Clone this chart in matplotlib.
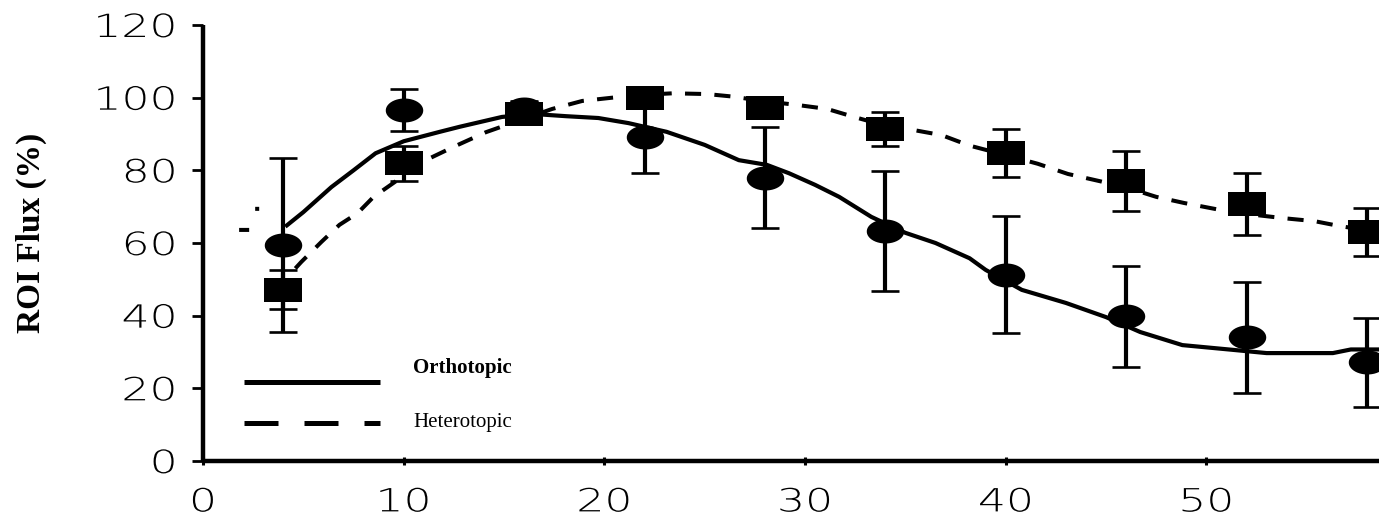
import numpy as np
import matplotlib
matplotlib.use("Agg")
import matplotlib.pyplot as plt
from matplotlib.path import Path
from matplotlib.lines import Line2D
from matplotlib.patheffects import AbstractPathEffect
from matplotlib.transforms import Affine2D

# ---- data -------------------------------------------------------------
days = [4, 10, 16, 22, 28, 34, 40, 46, 52, 58]

ortho_mean = [59.5, 96.6, 97.0, 89.2, 78.0, 63.3, 51.3, 39.8, 34.0, 27.2]
ortho_err = [24.0, 5.7, 2.0, 10.0, 14.0, 16.4, 16.0, 14.0, 15.3, 12.2]

hetero_mean = [47.2, 82.0, 95.6, 100.0, 97.1, 91.4, 84.8, 77.0, 70.7, 63.0]
hetero_err = [5.4, 4.8, 2.0, 2.0, 2.5, 4.6, 6.6, 8.2, 8.5, 6.5]

# fitted curves
ortho_fit_x = [4.1, 5.0, 6.4, 7.5, 8.6, 10.0, 11.8, 12.8, 14.9, 16.5, 18.1,
               19.7, 21.2, 23.1, 25.0, 26.7, 28.1, 29.2, 30.5, 31.7, 33.3,
               35.0, 36.5, 38.2, 39.0, 40.8, 43.0, 45.0, 46.7, 48.8, 51.3,
               53.0, 56.3, 57.2, 58.6]
ortho_fit_y = [64.5, 68.5, 75.4, 80.0, 84.7, 88.0, 90.6, 92.0, 94.7, 95.5, 94.9,
               94.4, 93.0, 90.6, 87.0, 82.8, 81.5, 79.2, 76.0, 72.7, 67.2,
               62.8, 60.0, 55.8, 52.6, 47.1, 43.5, 39.6, 35.5, 31.9, 30.6,
               29.7, 29.7, 30.7, 30.7]

hetero_fit_x = [1.8, 2.3, np.nan, 2.6, 2.8, np.nan, 4.6, 4.9, 5.9, 6.8, 7.7,
                8.5, 10.0, 11.1, 12.5, 14.1, 16.0, 17.4, 18.9, 20.4, 22.0,
                23.4, 25.1, 26.4, 28.0, 29.6, 31.1, 32.5, 34.0, 35.5, 36.8,
                38.2, 40.0, 41.6, 43.1, 44.7, 46.0, 47.5, 48.9, 50.5, 52.0,
                53.9, 55.4, 56.6, 58.0, 58.6]
hetero_fit_y = [63.6, 63.6, np.nan, 69.4, 69.4, np.nan, 53.0, 54.8, 60.3, 65.0,
                68.2, 72.7, 78.5, 82.8, 86.5, 90.5, 94.2, 96.9, 99.1, 100.0,
                100.8, 101.2, 101.0, 100.3, 99.0, 98.0, 96.9, 94.6, 92.3, 91.0,
                89.7, 86.8, 84.2, 81.8, 79.0, 77.0, 75.3, 72.7, 71.0, 69.3,
                68.0, 66.8, 66.0, 64.7, 63.5, 63.0]

x_ticks = [0, 10, 20, 30, 40, 50]
y_ticks = [0, 20, 40, 60, 80, 100, 120]

labels = ["Orthotopic", "Heterotopic"]
y_title = "ROI Flux (%)"


# ---- helpers ------------------------------------------------------------
class WideGlyphs(AbstractPathEffect):
    """Draw text glyphs stretched horizontally around an anchor."""

    def __init__(self, sx, anchor="center"):
        super().__init__()
        self._sx = sx
        self._anchor = anchor

    def draw_path(self, renderer, gc, tpath, affine, rgbFace=None):
        bb = tpath.get_extents(affine)
        x0 = bb.x1 if self._anchor == "right" else 0.5 * (bb.x0 + bb.x1)
        stretch = Affine2D().translate(-x0, 0).scale(self._sx, 1).translate(x0, 0)
        renderer.draw_path(gc, tpath, affine + stretch, rgbFace)


# wide, flat markers
box_marker = Path([(-1, -0.64), (1, -0.64), (1, 0.64), (-1, 0.64), (-1, -0.64)],
                  [Path.MOVETO, Path.LINETO, Path.LINETO, Path.LINETO, Path.CLOSEPOLY])
_t = np.linspace(0, 2 * np.pi, 48)
blob_marker = Path(np.column_stack([np.cos(_t), 0.64 * np.sin(_t)]), closed=True)

# ---- figure ---------------------------------------------------------------
W, H = 1379, 516
fig = plt.figure(figsize=(W / 100, H / 100), dpi=100)
ax = fig.add_axes([203 / W, 55 / H, 1 - 203 / W, (461 - 25) / H])

ax.set_xlim(0, 58.6)
ax.set_ylim(0, 120)

for s in ("top", "right"):
    ax.spines[s].set_visible(False)
for s in ("left", "bottom"):
    ax.spines[s].set_linewidth(3.2)
    ax.spines[s].set_capstyle("butt")

# fitted curves
ax.plot(ortho_fit_x, ortho_fit_y, color="black", lw=3.0, solid_capstyle="butt",
        zorder=2, clip_on=False)
ax.plot(hetero_fit_x, hetero_fit_y, color="black", lw=2.9,
        linestyle=(0, (4.0, 3.3)), dash_capstyle="butt", zorder=2, clip_on=False)

# error bars
ax.errorbar(days, ortho_mean, yerr=ortho_err, fmt="none", ecolor="black",
            elinewidth=3.0, capsize=10, capthick=1.9, zorder=3, clip_on=False)
ax.errorbar(days, hetero_mean, yerr=hetero_err, fmt="none", ecolor="black",
            elinewidth=3.0, capsize=10, capthick=1.9, zorder=3, clip_on=False)

# markers
ax.plot(days, hetero_mean, linestyle="none", marker=box_marker, markersize=27.5,
        markerfacecolor="black", markeredgewidth=0, zorder=4, clip_on=False)
ax.plot(days, ortho_mean, linestyle="none", marker=blob_marker, markersize=27,
        markerfacecolor="black", markeredgewidth=0, zorder=5, clip_on=False)

# ticks
ax.set_xticks(x_ticks)
ax.set_yticks(y_ticks)
ax.set_xticklabels([str(v) for v in x_ticks])
ax.set_yticklabels([str(v) for v in y_ticks])
ax.tick_params(axis="y", direction="out", length=8, width=2.0, pad=11,
               labelsize=23, colors="black")
ax.tick_params(axis="x", direction="inout", length=6, width=2.2, pad=16,
               labelsize=23, colors="black")
for lab in ax.get_yticklabels():
    lab.set_fontfamily("DejaVu Sans")
    lab.set_fontweight(200)
    lab.set_path_effects([WideGlyphs(1.38, "right")])
for lab in ax.get_xticklabels():
    lab.set_fontfamily("DejaVu Sans")
    lab.set_fontweight(200)
    lab.set_path_effects([WideGlyphs(1.38, "center")])

# axis title
fig.text(31 / W, 1 - 233 / H, y_title, rotation=90, ha="center", va="center",
         family="Liberation Serif", fontweight="bold", fontsize=24)

# key
fig.add_artist(Line2D([244 / W, 380 / W], [1 - 381.7 / H] * 2, color="black",
                      lw=3.6, solid_capstyle="butt", transform=fig.transFigure))
fig.add_artist(Line2D([244 / W, 380 / W], [1 - 422.7 / H] * 2, color="black",
                      lw=3.6, linestyle=(0, (6.8, 5.2)), dash_capstyle="butt",
                      transform=fig.transFigure))
fig.text(413 / W, 1 - 373 / H, labels[0], ha="left", va="baseline",
         family="Liberation Serif", fontweight="bold", fontsize=15)
fig.text(413 / W, 1 - 427 / H, labels[1], ha="left", va="baseline",
         family="Liberation Serif", fontsize=15)

fig.savefig("out.png", dpi=100)
